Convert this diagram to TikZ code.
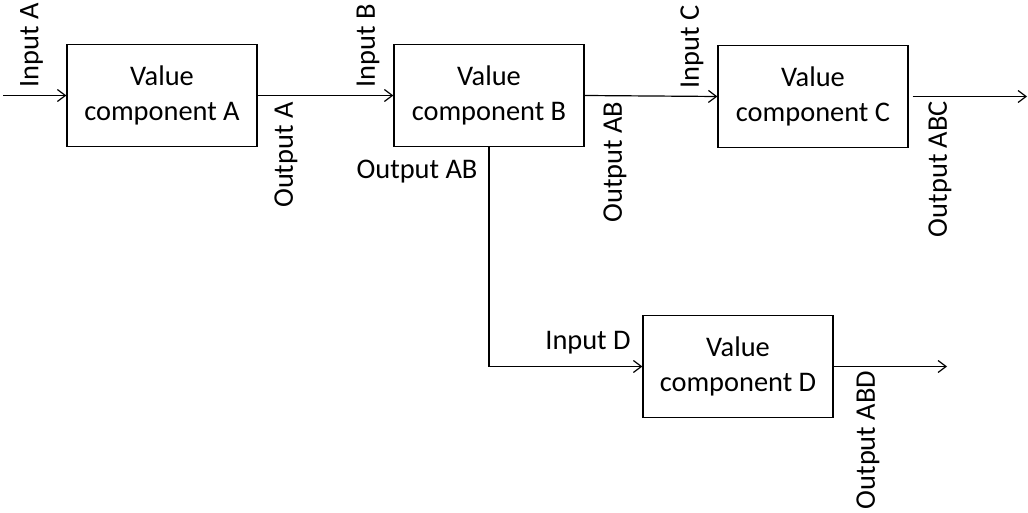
\documentclass[tikz,border=0pt]{standalone}
\usepackage{fontspec}
\setmainfont{Carlito}
\usetikzlibrary{arrows.meta}
\tikzset{
  valuebox/.style={draw, line width=0.9pt, minimum width=142.5pt, minimum height=76pt, align=center, inner sep=0pt},
  flow/.style={line width=0.9pt, -{Straight Barb[length=6pt,width=9pt]}},
  lbl/.style={inner sep=0pt},
  vlbl/.style={lbl, rotate=90}
}
\begin{document}
\begin{tikzpicture}[x=0.75pt, y=-0.75pt, font=\fontsize{21.3}{26.5}\selectfont]
  \useasboundingbox (0,0) rectangle (1028,513);

  \node[valuebox] (compA) at (162,95.5) {Value\\component A};
  \node[valuebox] (compB) at (489,95.5) {Value\\component B};
  \node[valuebox] (compC) at (813,96.5) {Value\\component C};
  \node[valuebox] (compD) at (738,366.5) {Value\\component D};

  \coordinate (inA) at (3,95.5);
  \coordinate (outC) at (1027,96.5);
  \coordinate (outD) at (947,366.5);

  \draw[flow] (inA) -- (compA.west);
  \draw[flow] (compA.east) -- (compB.west);
  \draw[flow] (compB.east) -- (compC.west);
  \draw[flow] ([xshift=3pt]compC.east) -- (outC);
  \draw[flow] (compB.south) |- (compD.west);
  \draw[flow] (compD.east) -- (outD);

  \node[vlbl] (labInA) at (31.5,45.5) {Input A};
  \node[vlbl] (labOutA) at (286,155) {Output A};
  \node[vlbl] (labInB) at (368,46) {Input B};
  \node[lbl] (labOutABh) at (417,172) {Output AB};
  \node[vlbl] (labOutAB) at (615,162) {Output AB};
  \node[vlbl] (labInC) at (692,47) {Input C};
  \node[vlbl] (labOutABC) at (940,169) {Output ABC};
  \node[lbl] (labInD) at (588,343) {Input D};
  \node[vlbl] (labOutABD) at (868,440) {Output ABD};
\end{tikzpicture}
\end{document}
